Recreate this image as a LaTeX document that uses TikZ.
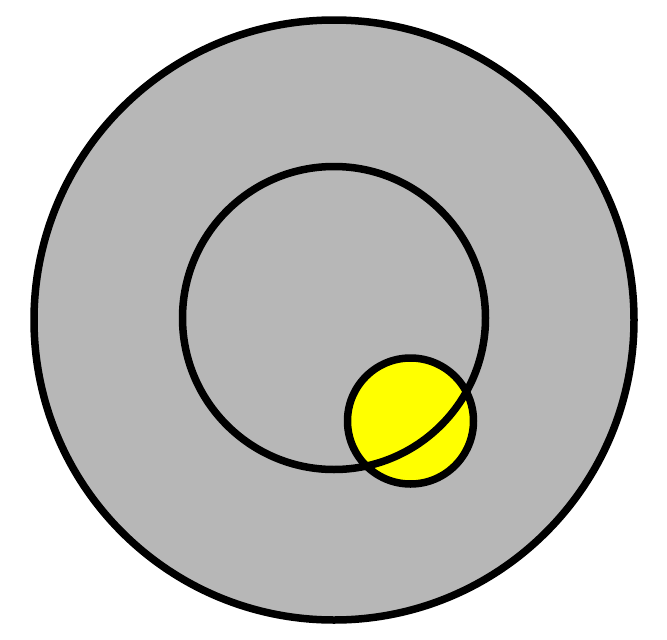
\documentclass[tikz,border=0pt]{standalone}
\usepackage{tikz}

\definecolor{discgray}{RGB}{183,183,183}
\definecolor{sunyellow}{RGB}{255,255,0}

\begin{document}
\begin{tikzpicture}[x=1pt, y=-1pt, line width=7.5pt, ring/.style={draw=black}, disc/.style={fill=discgray, draw=black}, sun/.style={fill=sunyellow, draw=black}]
	\useasboundingbox (0,0) rectangle (667,640);
	\coordinate (O) at (334,320);
	\coordinate (I) at (334,318);
	\coordinate (S) at (410.5,421);
	
	\path[disc] (O) circle (300pt);
	\path[sun] (S) circle (63pt);
	\path[ring] (I) circle (151.5pt);
	
\end{tikzpicture}
\end{document}
